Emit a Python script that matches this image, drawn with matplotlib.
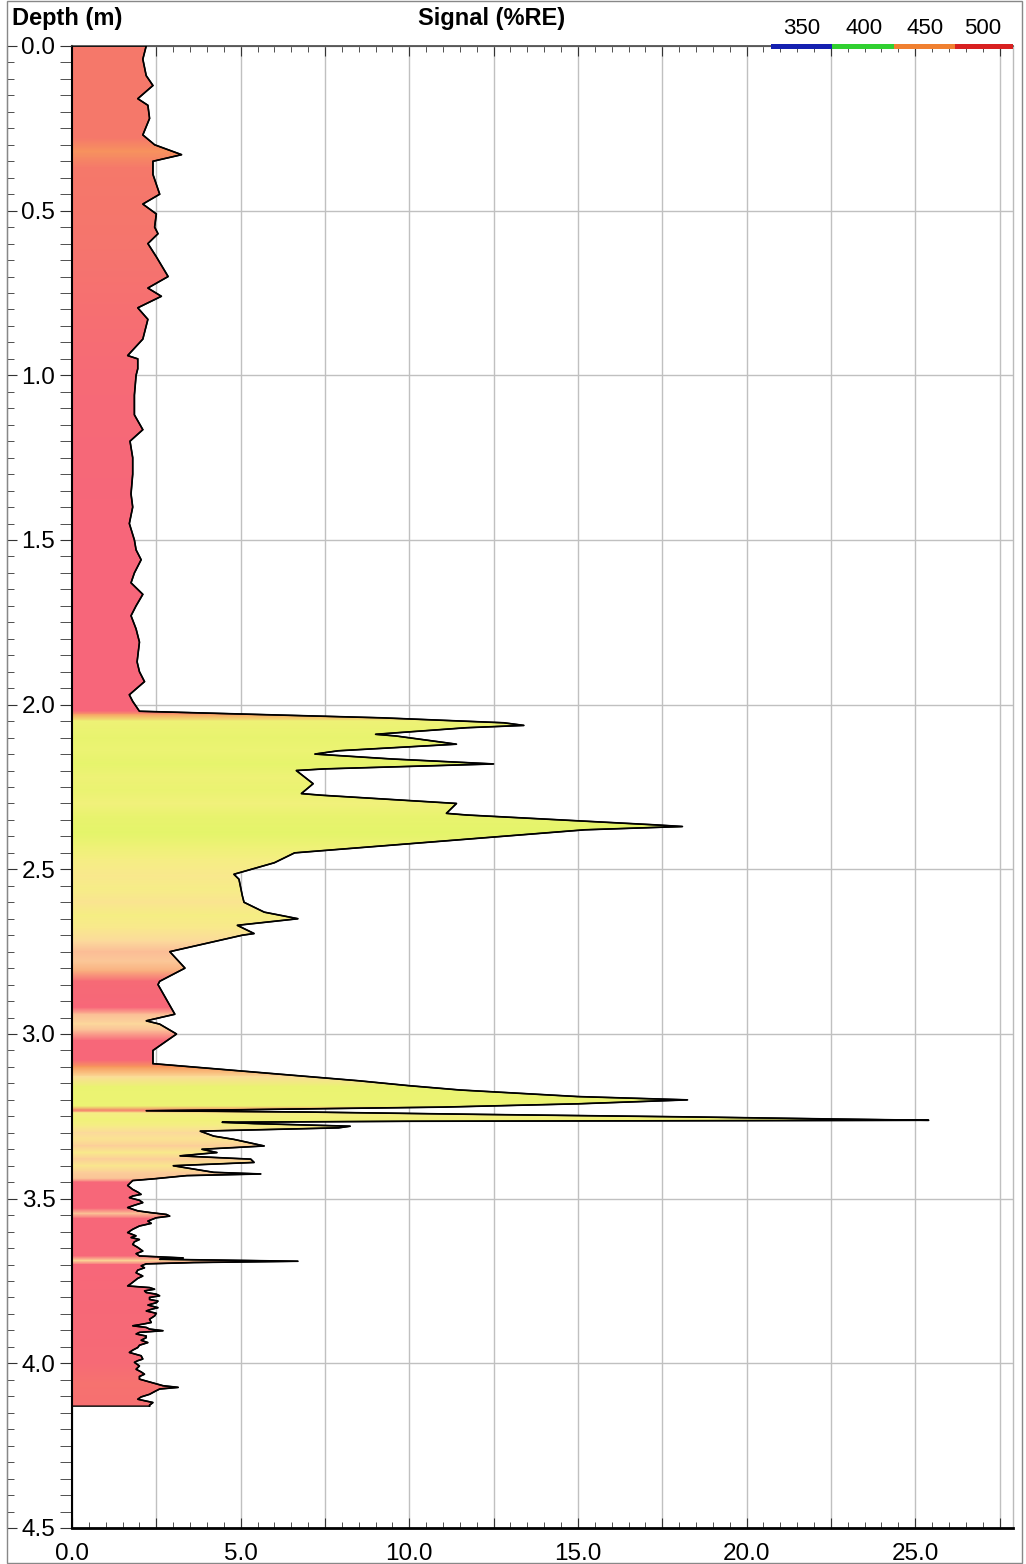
import matplotlib
matplotlib.use('Agg')
import matplotlib.pyplot as plt
from matplotlib.colors import LinearSegmentedColormap, Normalize
from matplotlib.patches import Polygon, Rectangle
from matplotlib.ticker import MultipleLocator, FuncFormatter

# depth (m) / signal (%RE) trace
depth = [
    0.00, 0.04, 0.09, 0.12, 0.16, 0.18, 0.22, 0.27, 0.30, 0.33, 0.35, 0.39,
    0.45, 0.48, 0.51, 0.55, 0.57, 0.60, 0.64, 0.70, 0.735, 0.76, 0.795, 0.83,
    0.89, 0.94, 0.95, 0.98, 1.00, 1.06, 1.12, 1.165, 1.20, 1.25, 1.30, 1.36,
    1.40, 1.45, 1.50, 1.53, 1.56, 1.60, 1.63, 1.665, 1.70, 1.73, 1.77, 1.81,
    1.87, 1.90, 1.93, 1.97, 1.99, 2.02,
    2.027, 2.04, 2.055, 2.063, 2.07, 2.09, 2.095, 2.12, 2.14, 2.15, 2.165,
    2.18, 2.195, 2.20, 2.24, 2.27, 2.275, 2.30, 2.33, 2.335, 2.35, 2.365,
    2.37, 2.38, 2.45, 2.48, 2.515, 2.53, 2.58, 2.60, 2.63, 2.65, 2.67, 2.695,
    2.70, 2.75, 2.80, 2.84, 2.85, 2.94, 2.96, 2.97, 3.00, 3.05, 3.09,
    3.142, 3.157, 3.17, 3.19, 3.20, 3.212, 3.222, 3.230, 3.233, 3.237, 3.244,
    3.252, 3.258, 3.262, 3.263, 3.265, 3.268, 3.272, 3.275, 3.28, 3.285,
    3.295, 3.31, 3.32, 3.34, 3.345, 3.35, 3.36, 3.37, 3.38, 3.39, 3.40,
    3.42, 3.425, 3.43, 3.44, 3.445, 3.46,
    3.472, 3.480, 3.487, 3.492, 3.497, 3.505, 3.512, 3.520, 3.527, 3.537,
    3.542, 3.548, 3.553, 3.558, 3.568, 3.575, 3.583, 3.593, 3.603, 3.613,
    3.618, 3.624, 3.631, 3.639, 3.648, 3.659, 3.667, 3.674, 3.680, 3.684,
    3.690, 3.694, 3.698, 3.704, 3.71, 3.717, 3.725, 3.735, 3.742, 3.75,
    3.758, 3.765, 3.770, 3.775, 3.780, 3.785, 3.790, 3.795, 3.800, 3.806,
    3.811, 3.816, 3.823, 3.831, 3.836, 3.841, 3.848, 3.856, 3.866, 3.876,
    3.881, 3.886, 3.891, 3.896, 3.901, 3.906, 3.911, 3.917, 3.922, 3.930,
    3.937, 3.945, 3.952, 3.960, 3.967, 3.977, 3.987, 3.992, 3.997, 4.008,
    4.018, 4.026, 4.033, 4.040, 4.048, 4.058, 4.068, 4.073, 4.078, 4.083,
    4.094, 4.102, 4.109, 4.119, 4.127, 4.13,
]
signal = [
    2.2, 2.1, 2.2, 2.4, 1.95, 2.25, 2.3, 2.1, 2.45, 3.25, 2.4, 2.4,
    2.6, 2.1, 2.5, 2.45, 2.55, 2.25, 2.5, 2.85, 2.25, 2.65, 1.95, 2.25,
    2.1, 1.65, 1.95, 1.95, 1.9, 1.85, 1.85, 2.1, 1.72, 1.8, 1.8, 1.75,
    1.8, 1.7, 1.85, 1.9, 2.05, 1.85, 1.75, 2.1, 1.9, 1.75, 1.9, 2.0,
    1.93, 2.0, 2.15, 1.7, 1.8, 2.0,
    4.5, 9.2, 12.8, 13.4, 11.7, 9.0, 9.6, 11.4, 7.9, 7.2, 9.5,
    12.5, 7.5, 6.65, 7.15, 6.8, 7.4, 11.4, 11.1, 11.7, 14.5, 17.3,
    18.1, 15.2, 6.6, 6.0, 4.8, 4.95, 5.05, 5.1, 5.7, 6.7, 4.9, 5.4,
    5.05, 2.9, 3.35, 2.6, 2.55, 3.05, 2.2, 2.6, 3.1, 2.4, 2.4,
    8.5, 10.0, 11.5, 15.0, 18.25, 15.0, 11.0, 5.0, 2.2, 7.0, 12.0,
    18.5, 22.5, 25.4, 20.0, 10.0, 4.45, 5.4, 6.5, 8.25, 7.9,
    3.8, 4.2, 4.8, 5.7, 4.8, 3.85, 4.3, 3.2, 5.3, 5.4, 3.0,
    4.2, 5.6, 3.4, 2.4, 1.8, 1.65,
    1.8, 1.95, 2.05, 1.8, 1.7, 2.0, 2.1, 1.85, 1.65, 1.95,
    2.3, 2.8, 2.9, 2.5, 2.25, 2.35, 2.0, 1.8, 1.65, 1.9,
    1.75, 2.0, 1.85, 1.8, 1.95, 2.1, 1.9, 2.0, 3.3, 2.6,
    6.7, 3.6, 2.2, 2.05, 2.15, 1.95, 1.9, 2.1, 1.95, 1.85,
    1.75, 1.65, 2.3, 2.45, 2.15, 2.2, 2.5, 2.6, 2.3, 2.3,
    2.55, 2.5, 2.25, 2.55, 2.35, 2.2, 2.5, 2.45, 2.3, 2.35,
    2.1, 1.8, 2.2, 2.3, 2.7, 2.0, 1.9, 2.2, 2.2, 2.05,
    2.25, 2.0, 1.95, 1.8, 1.7, 2.05, 2.1, 1.95, 1.85, 2.0,
    1.9, 2.05, 2.15, 2.0, 2.0, 2.35, 2.7, 3.15, 2.6, 2.5,
    2.3, 2.05, 1.95, 2.4, 2.3, 2.3,
]

# dominant wavelength (nm) used to tint the fill along depth
color_depth = [
    0.00, 0.28, 0.32, 0.34, 0.37, 0.60, 0.80, 1.00, 1.50, 2.02, 2.03, 2.05,
    2.10, 2.14, 2.18, 2.22, 2.26, 2.30, 2.34, 2.39, 2.43, 2.47, 2.52, 2.56,
    2.60, 2.64, 2.68, 2.72, 2.75, 2.78, 2.81, 2.84, 2.92, 2.94, 2.97, 2.99,
    3.02, 3.08, 3.10, 3.13, 3.16, 3.22, 3.232, 3.24, 3.26, 3.28, 3.30, 3.32,
    3.34, 3.36, 3.38, 3.40, 3.42, 3.44, 3.45, 3.53, 3.545, 3.56, 3.675,
    3.688, 3.70, 4.00, 4.06, 4.13,
]
color_nm = [
    484, 484, 474, 478, 484, 486, 490, 494, 497, 497, 470, 430,
    424, 428, 422, 430, 426, 434, 424, 420, 430, 438, 444, 440,
    446, 438, 444, 452, 462, 458, 466, 494, 496, 462, 452, 462,
    496, 496, 472, 450, 426, 428, 484, 440, 432, 440, 452, 446,
    456, 442, 456, 444, 456, 460, 496, 496, 458, 496, 496,
    450, 496, 494, 488, 490,
]

legend_nm = ['350', '400', '450', '500']
legend_colors = ['#1420b0', '#30d030', '#f08030', '#d82020']

fill_cmap = LinearSegmentedColormap.from_list('fill', [
    (0.000, '#e4f46a'), (0.150, '#f0f278'), (0.275, '#f8ec8a'),
    (0.400, '#fcd99c'), (0.525, '#fbbd96'), (0.650, '#f7985c'),
    (0.800, '#f5786a'), (1.000, '#f7627d')])
norm = Normalize(420, 500)

plt.rcParams['font.family'] = ['Liberation Sans Narrow', 'Liberation Sans', 'DejaVu Sans']

W, H = 1026, 1564
fig = plt.figure(figsize=(W / 100, H / 100), dpi=100)
x0, x1, y0, y1 = 72, 1013, 46, 1528
ax = fig.add_axes([x0 / W, 1 - y1 / H, (x1 - x0) / W, (y1 - y0) / H])

# coloured fill clipped to the trace
X = [[0, 28] for _ in color_depth]
Y = [[d, d] for d in color_depth]
C = [[v, v] for v in color_nm]
mesh = ax.pcolormesh(X, Y, C, shading='gouraud', cmap=fill_cmap, norm=norm, zorder=2)
outline = [(0, depth[0])] + list(zip(signal, depth)) + [(0, depth[-1])]
poly = Polygon(outline, closed=True, facecolor='none', edgecolor='black', lw=1.0, zorder=3)
ax.add_patch(poly)
mesh.set_clip_path(poly)
ax.plot(signal, depth, color='black', lw=1.2, zorder=4)

ax.set_xlim(0, 27.9)
ax.set_ylim(4.5, 0)

ax.xaxis.set_major_locator(MultipleLocator(2.5))
ax.xaxis.set_minor_locator(MultipleLocator(0.5))
ax.xaxis.set_major_formatter(FuncFormatter(
    lambda v, p: f'{v:.1f}' if abs(v / 5 - round(v / 5)) < 1e-6 else ''))
ax.yaxis.set_major_locator(MultipleLocator(0.5))
ax.yaxis.set_minor_locator(MultipleLocator(0.05))
ax.yaxis.set_major_formatter(FuncFormatter(lambda v, p: f'{v:.1f}'))

ax.tick_params(axis='x', which='both', direction='in', top=True, bottom=True,
               labelsize=17.5, pad=11, color='#333333')
ax.tick_params(axis='x', which='major', length=7)
ax.tick_params(axis='x', which='minor', length=4)
ax.tick_params(axis='y', which='both', direction='out', length=9, labelsize=17.5,
               pad=3, color='#333333')

ax.grid(True, which='major', color='#c0c0c0', lw=1.0, zorder=1)
ax.set_axisbelow(True)
for side, lw, col in [('left', 1.5, 'black'), ('bottom', 2.0, 'black'),
                      ('top', 1.2, '#444444'), ('right', 1.0, '#bbbbbb')]:
    ax.spines[side].set_linewidth(lw)
    ax.spines[side].set_color(col)

# outer depth scale line with inward ticks
axl = fig.add_axes([7 / W, 1 - y1 / H, 0.0001, (y1 - y0) / H], sharey=ax)
axl.set_xticks([])
for side in ['top', 'bottom', 'right']:
    axl.spines[side].set_visible(False)
axl.spines['left'].set_color('#555555')
axl.tick_params(axis='y', which='both', direction='in', labelleft=False, color='#333333')
axl.tick_params(axis='y', which='major', length=7)
axl.tick_params(axis='y', which='minor', length=5)
axl.patch.set_alpha(0)

# frame
fig.add_artist(Rectangle((7 / W, 0.0005), 1015 / W, 0.999, transform=fig.transFigure,
                         fill=False, edgecolor='#888888', lw=1.0))

# headers
fig.text(12 / W, 1 - 19 / H, 'Depth (m)', fontsize=17, fontweight='bold',
         family=['Liberation Sans', 'DejaVu Sans'], ha='left', va='center')
fig.text(492 / W, 1 - 19 / H, 'Signal (%RE)', fontsize=17, fontweight='bold',
         family=['Liberation Sans', 'DejaVu Sans'], ha='center', va='center')

# wavelength legend bar
seg_edges = [771, 832, 894, 955, 1013]
for i, (lab, col) in enumerate(zip(legend_nm, legend_colors)):
    xa, xb = seg_edges[i], seg_edges[i + 1]
    fig.add_artist(Rectangle((xa / W, 1 - 49 / H), (xb - xa) / W, 5 / H,
                             transform=fig.transFigure, color=col, lw=0))
    fig.text((xb - 30) / W, 1 - 28 / H, lab, fontsize=16, ha='center', va='center')

fig.savefig('out.png', dpi=100)
